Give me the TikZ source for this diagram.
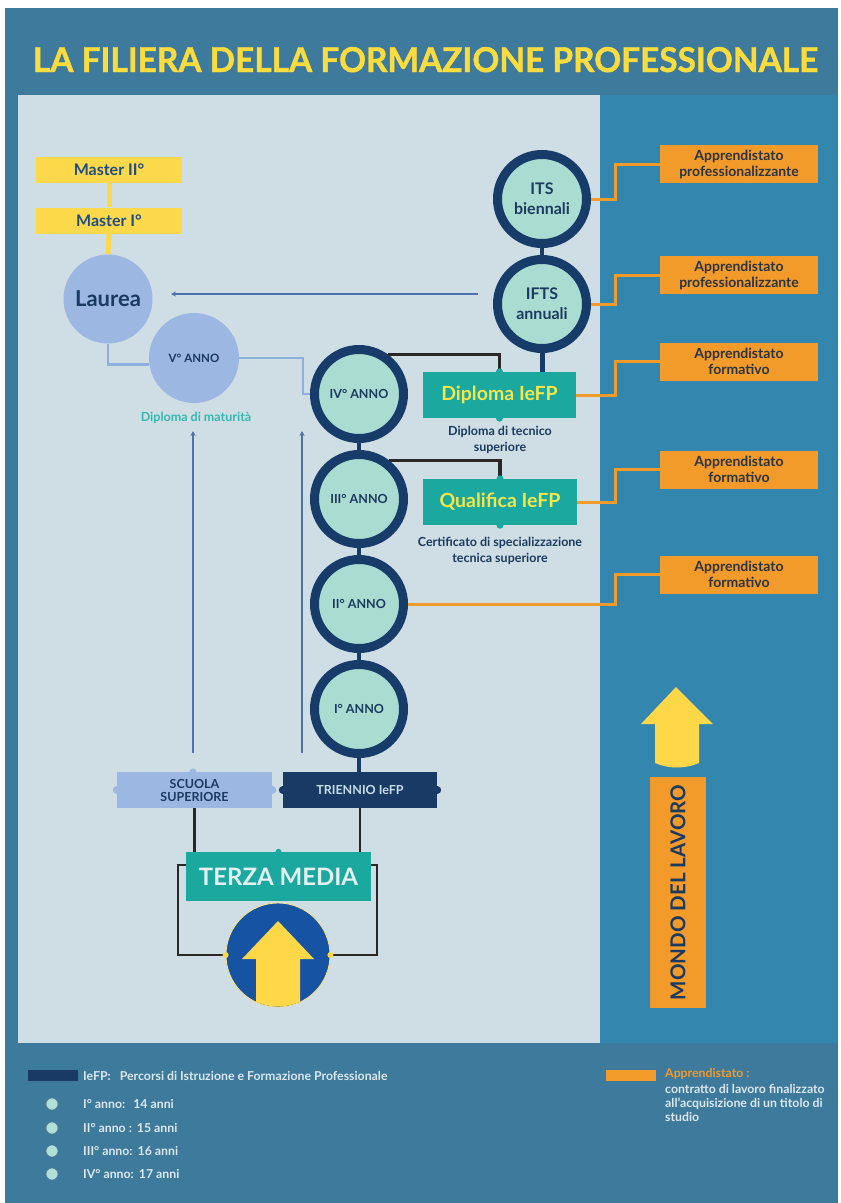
\documentclass[tikz,border=0pt]{standalone}
\usepackage{fontspec}
\setmainfont{Lato}
\newfontfamily\titlefont{Lato}[BoldFeatures={FakeBold=1.2}]
\usepackage{graphicx}
\usetikzlibrary{arrows.meta,calc}
\definecolor{frameblue}{HTML}{3D7A9C}
\definecolor{panellight}{HTML}{CFDEE5}
\definecolor{panelright}{HTML}{3387AE}
\definecolor{titleyellow}{HTML}{FBDC3E}
\definecolor{masteryellow}{HTML}{FCD94A}
\definecolor{masternavy}{HTML}{1F4D86}
\definecolor{laureablue}{HTML}{9BB7E2}
\definecolor{navytext}{HTML}{1B3A5F}
\definecolor{ringnavy}{HTML}{173C6A}
\definecolor{mint}{HTML}{AADCD2}
\definecolor{tealbox}{HTML}{1BA89F}
\definecolor{boxyellow}{HTML}{F4E64B}
\definecolor{apporange}{HTML}{F29A2A}
\definecolor{apptext}{HTML}{2C3440}
\definecolor{lightline}{HTML}{8FAFDC}
\definecolor{arrowblue}{HTML}{4F72AE}
\definecolor{darkline}{HTML}{2B2724}
\definecolor{triennio}{HTML}{183A64}
\definecolor{triennotext}{HTML}{C6DCE6}
\definecolor{terzatext}{HTML}{E3F0F0}
\definecolor{circblue}{HTML}{1654A3}
\definecolor{arrowyellow}{HTML}{FFD84A}
\definecolor{legtext}{HTML}{DCE7EE}
\definecolor{maturita}{HTML}{33B8B0}
\newcommand\fsz[2]{\fontsize{#1}{#2}\selectfont}
\pgfdeclarelayer{back}
\pgfdeclarelayer{mid}
\pgfsetlayers{back,mid,main}
\tikzset{
  ring/.style={circle, draw=ringnavy, line width=9pt, fill=mint, minimum size=89pt,
    inner sep=0pt, text=navytext, font=\bfseries\fsz{12.5}{15}, align=center},
  lcirc/.style={circle, fill=laureablue, inner sep=0pt, text=navytext, align=center},
  masterbox/.style={rectangle, fill=masteryellow, minimum width=146pt, minimum height=26pt,
    inner sep=0pt, text=masternavy, font=\bfseries\fsz{16}{18}},
  apbox/.style={rectangle, fill=apporange, minimum width=158pt, minimum height=38pt,
    inner sep=0pt, align=center, text=apptext, font=\bfseries\fsz{14}{16}},
  tealrect/.style={rectangle, fill=tealbox, inner sep=0pt, text=boxyellow, font=\bfseries\fsz{19.5}{22}},
  subtext/.style={align=center, text=navytext, font=\bfseries\fsz{12.5}{16}},
  yline/.style={draw=masteryellow, line width=5pt},
  bline/.style={draw=lightline, line width=2.5pt},
  navyline/.style={draw=ringnavy, line width=3.5pt},
  brline/.style={draw=darkline, line width=3.5pt},
  oline/.style={draw=apporange, line width=3pt},
  gline/.style={draw=darkline, line width=2.2pt},
  thinarrow/.style={draw=arrowblue, line width=1.3pt, -{Stealth[length=5pt,width=5pt]}},
  legtxt/.style={anchor=west, text=legtext, inner sep=0pt, font=\bfseries\fsz{12.3}{14}},
  dotmark/.style={circle, inner sep=0pt, minimum size=6pt}
}
\begin{document}
\begin{tikzpicture}[x=1pt,y=-1pt]
\useasboundingbox (0,0) rectangle (841,1203);
\begin{pgfonlayer}{back}
\fill[white] (0,0) rectangle (841,1203);
\fill[frameblue] (5,8) rectangle (838,1203);
\fill[panellight] (18,95) rectangle (600,1043);
\fill[panelright] (600,95) rectangle (838,1043);
\end{pgfonlayer}

% title
\node[anchor=base, text=titleyellow, inner sep=0pt] (title) at (425.5,72)
  {\resizebox{785pt}{25pt}{\titlefont\bfseries LA FILIERA DELLA FORMAZIONE PROFESSIONALE}};

% left column
\node[masterbox] (m2) at (109,170) {Master II°};
\node[masterbox] (m1) at (109,220.5) {Master I°};
\node[lcirc, minimum size=89pt, font=\bfseries\fsz{22}{24}] (lau) at (108,299) {Laurea};
\node[lcirc, minimum size=90pt, font=\bfseries\fsz{11.5}{14}] (v) at (194,358) {V° ANNO};
\node[text=maturita, font=\bfseries\fsz{12.5}{15}] (mat) at (196,418) {Diploma di maturità};

% central column
\node[ring, font=\bfseries\fsz{16}{20}] (its) at (542,199) {ITS\\biennali};
\node[ring, font=\bfseries\fsz{16}{20}] (ifts) at (542,304) {IFTS\\annuali};
\node[ring] (iv) at (359,394) {IV° ANNO};
\node[ring] (iii) at (359,499) {III° ANNO};
\node[ring] (ii) at (359,604) {II° ANNO};
\node[ring] (i) at (359,709) {I° ANNO};

\node[tealrect, minimum width=153pt, minimum height=46pt] (dip) at (499.5,395) {Diploma IeFP};
\node[tealrect, minimum width=154pt, minimum height=46pt] (qual) at (500,502) {Qualifica IeFP};
\node[subtext] (diptxt) at (500,440) {Diploma di tecnico\\superiore};
\node[subtext] (qualtxt) at (500,550.5) {Certificato di specializzazione\\tecnica superiore};
\foreach \a in {dip.north,dip.south,qual.north,qual.south}
  \node[dotmark, fill=tealbox, minimum size=7pt] at (\a) {};

% apprendistato boxes
\node[apbox] (ap1) at (739,164) {Apprendistato\\professionalizzante};
\node[apbox] (ap2) at (739,275) {Apprendistato\\professionalizzante};
\node[apbox] (ap3) at (739,361.5) {Apprendistato\\formativo};
\node[apbox] (ap4) at (739,469.5) {Apprendistato\\formativo};
\node[apbox] (ap5) at (739,574.5) {Apprendistato\\formativo};

% bottom boxes
\node[rectangle, fill=laureablue, minimum width=155pt, minimum height=36pt, inner sep=0pt,
  align=center, text=navytext, font=\bfseries\fsz{12.5}{13}] (scuola) at (194.5,790) {SCUOLA\\SUPERIORE};
\node[rectangle, fill=triennio, minimum width=154pt, minimum height=36pt, inner sep=0pt,
  text=triennotext, font=\bfseries\fsz{12.5}{14}] (tri) at (360,790) {TRIENNIO IeFP};
\node[dotmark, fill=laureablue, minimum size=8pt] at (scuola.west) {};
\node[dotmark, fill=laureablue, minimum size=8pt] at (scuola.east) {};
\node[dotmark, fill=laureablue, minimum size=7pt] at (193,772) {};
\node[dotmark, fill=triennio, minimum size=8pt] at (tri.west) {};
\node[dotmark, fill=triennio, minimum size=8pt] at (tri.east) {};
\node[rectangle, fill=tealbox, minimum width=185pt, minimum height=49pt, inner sep=0pt,
  text=terzatext, font=\bfseries\fsz{24}{26}] (terza) at (278.5,876.5) {TERZA MEDIA};
\node[dotmark, fill=tealbox, minimum size=6pt] at (terza.north) {};
\node[circle, fill=circblue, draw=arrowyellow!70!white, line width=0.8pt, minimum size=104pt, inner sep=0pt] (tc) at (278,955) {};
\begin{scope}
\clip (278,955) circle (51.5);
\fill[arrowyellow] (278,921) -- (314,959) -- (300,959) -- (300,1012) -- (256,1012) -- (256,959) -- (242,959) -- cycle;
\end{scope}
\node[dotmark, fill=arrowyellow, minimum size=6pt] at (tc.west) {};
\node[dotmark, fill=arrowyellow, minimum size=6pt] at (tc.east) {};

% right panel arrow and label
\fill[arrowyellow] (676,687) -- (713,724) -- (699,724) -- (699,763)
  .. controls (685,769) and (669,769) .. (655,763) -- (655,724) -- (641,724) -- cycle;
\node[rectangle, fill=apporange, rotate=90, minimum width=231pt, minimum height=56pt, inner sep=0pt,
  text=navytext, font=\bfseries\fsz{20.5}{22}] (mondo) at (678,892.5) {MONDO DEL LAVORO};

% coordinates for free ends
\coordinate (oc) at (615,0);
\coordinate (lauS) at (478,294);
\coordinate (lauE) at (171,294);
\coordinate (a1s) at (193,753);
\coordinate (a1e) at (193,431);
\coordinate (a2s) at (302,753);
\coordinate (a2e) at (302,431);
\coordinate (vturn) at (303,358);

% connectors
\begin{pgfonlayer}{mid}
\draw[yline] (m2.south) -- (m1.north);
\draw[yline] (m1.south) -- (lau.north);
\draw[bline] (lau.south) |- (v.188);
\draw[bline] (v.east) -- (vturn) |- (iv.west);
\draw[thinarrow] (lauS) -- (lauE);
\draw[thinarrow] (a1s) -- (a1e);
\draw[thinarrow] (a2s) -- (a2e);
\draw[navyline, line width=4pt] (its.south) -- (ifts.north);
\draw[navyline, line width=5pt] (ifts.south) -- (ifts.south |- dip.north);
\draw[navyline] (iv.south) -- (iii.north);
\draw[navyline] (iii.south) -- (ii.north);
\draw[navyline] (ii.south) -- (i.north);
\draw[navyline] (i.south) -- (i.south |- tri.north);
\draw[brline] (iv.54) -| (dip.north);
\draw[brline] (iii.52) -| (qual.north);
\draw[oline] (its.east) -- (its.east -| oc) |- (ap1.west);
\draw[oline] (ifts.east) -- (ifts.east -| oc) |- (ap2.west);
\draw[oline] (dip.east) -- (dip.east -| oc) |- (ap3.west);
\draw[oline] (qual.east) -- (qual.east -| oc) |- (ap4.west);
\draw[oline] (ii.east) -- (ii.east -| oc) |- (ap5.west);
\draw[gline] (scuola.south) -- (scuola.south |- terza.north);
\draw[gline] (tri.south) -- (tri.south |- terza.north);
\draw[gline] (terza.north west) ++(0,13) -- ++(-8,0) |- (tc.west);
\draw[gline] (terza.north east) ++(0,13) -- ++(6,0) |- (tc.east);
\end{pgfonlayer}

% legend
\fill[triennio] (28,1070) rectangle (78,1081);
\node[legtxt] (leg0) at (83,1076) {IeFP:\hspace{9pt}Percorsi di Istruzione e Formazione Professionale};
\foreach \yy/\tt [count=\k] in {1104/{I° anno:\hspace{8pt}14 anni},1128/{II° anno :\hspace{5pt}15 anni},1151/{III° anno:\hspace{5pt}16 anni},1174/{IV° anno:\hspace{5pt}17 anni}}{
  \node[circle, fill=mint!90!white, draw=ringnavy!60!mint, line width=0.6pt, minimum size=12pt, inner sep=0pt] (lc\k) at (52,\yy) {};
  \node[legtxt] (lt\k) at (83,\yy) {\tt};
}
\fill[apporange] (606,1070) rectangle (656,1081);
\node[legtxt, text=apporange] (lapp) at (665,1074) {Apprendistato :};
\node[legtxt, anchor=north west, align=left, font=\bfseries\fsz{12.3}{14}] (lappt) at (665,1084)
  {contratto di lavoro finalizzato\\all'acquisizione di un titolo di\\studio};
\end{tikzpicture}
\end{document}
